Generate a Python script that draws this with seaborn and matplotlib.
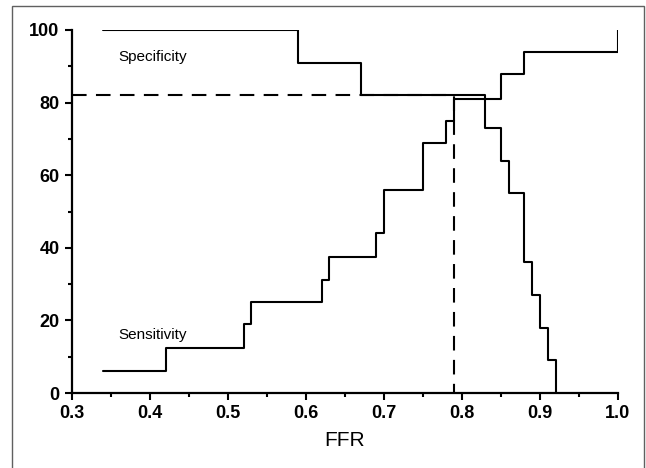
import pandas as pd
import matplotlib
matplotlib.use("Agg")
import matplotlib.pyplot as plt
import seaborn as sns
from matplotlib.patches import Rectangle
from matplotlib.ticker import MultipleLocator

sns.set_style("ticks")
plt.rcParams["font.family"] = ["Liberation Sans", "DejaVu Sans"]
plt.rcParams["text.color"] = "black"
plt.rcParams["axes.labelcolor"] = "black"
plt.rcParams["xtick.color"] = "black"
plt.rcParams["ytick.color"] = "black"
plt.rcParams["axes.edgecolor"] = "black"

# ----------------------------------
# data
# ----------------------------------
spec_ffr = [0.34, 0.59, 0.67, 0.83, 0.85, 0.86, 0.88, 0.89, 0.90, 0.91, 0.92]
spec_val = [100, 91, 82, 73, 64, 55, 36, 27, 18, 9, 0]

sens_ffr = [0.34, 0.42, 0.52, 0.53, 0.62, 0.63, 0.69, 0.70, 0.75, 0.78, 0.79, 0.85, 0.88, 1.00]
sens_val = [6, 12.5, 19, 25, 31, 37.5, 44, 56, 69, 75, 81, 88, 94, 100]

# cut-off guide
cut_ffr = [0.30, 0.79, 0.79]
cut_val = [82, 82, 0]

spec = pd.DataFrame({"FFR": spec_ffr, "val": spec_val})
sens = pd.DataFrame({"FFR": sens_ffr, "val": sens_val})
cut = pd.DataFrame({"FFR": cut_ffr, "val": cut_val})

fig = plt.figure(figsize=(6.46, 4.68), dpi=100)
ax = fig.add_axes([72 / 646, 1 - 393 / 468, 546 / 646, 363 / 468])

sns.lineplot(data=spec, x="FFR", y="val", drawstyle="steps-post", color="black",
             linewidth=1.5, estimator=None, ax=ax)
sns.lineplot(data=sens, x="FFR", y="val", drawstyle="steps-post", color="black",
             linewidth=1.5, estimator=None, ax=ax)
sns.lineplot(data=cut, x="FFR", y="val", sort=False, color="black", linewidth=1.5,
             dashes=False, linestyle=(0, (7, 4.5)), estimator=None, ax=ax)

ax.text(0.359, 92.6, "Specificity", fontsize=11, va="center")
ax.text(0.360, 16.0, "Sensitivity", fontsize=11, va="center")

ax.set_xlim(0.3, 1.0)
ax.set_ylim(0, 100)
ax.xaxis.set_major_locator(MultipleLocator(0.1))
ax.xaxis.set_minor_locator(MultipleLocator(0.05))
ax.yaxis.set_major_locator(MultipleLocator(20))
ax.yaxis.set_minor_locator(MultipleLocator(10))
ax.set_xticks(ax.get_xticks())
ax.set_xticklabels([f"{t:.1f}" for t in ax.get_xticks()], fontweight="bold")
for lab in ax.get_yticklabels():
    lab.set_fontweight("bold")
ax.tick_params(which="major", length=5, width=1.5, labelsize=13, direction="out", pad=4)
ax.tick_params(which="minor", length=3, width=1.5, direction="out")
ax.set_xlim(0.3, 1.0)
ax.set_xlabel("FFR", fontsize=15, labelpad=6)
ax.set_ylabel("")
sns.despine(ax=ax)
for s in ["left", "bottom"]:
    ax.spines[s].set_linewidth(1.6)

# outer frame of the original figure
fig.patches.append(Rectangle((12 / 646, -0.1), 632 / 646, 1.1 - 6 / 468,
                             transform=fig.transFigure, fill=False,
                             edgecolor="#606060", lw=1))

fig.savefig("out.png", dpi=100)
